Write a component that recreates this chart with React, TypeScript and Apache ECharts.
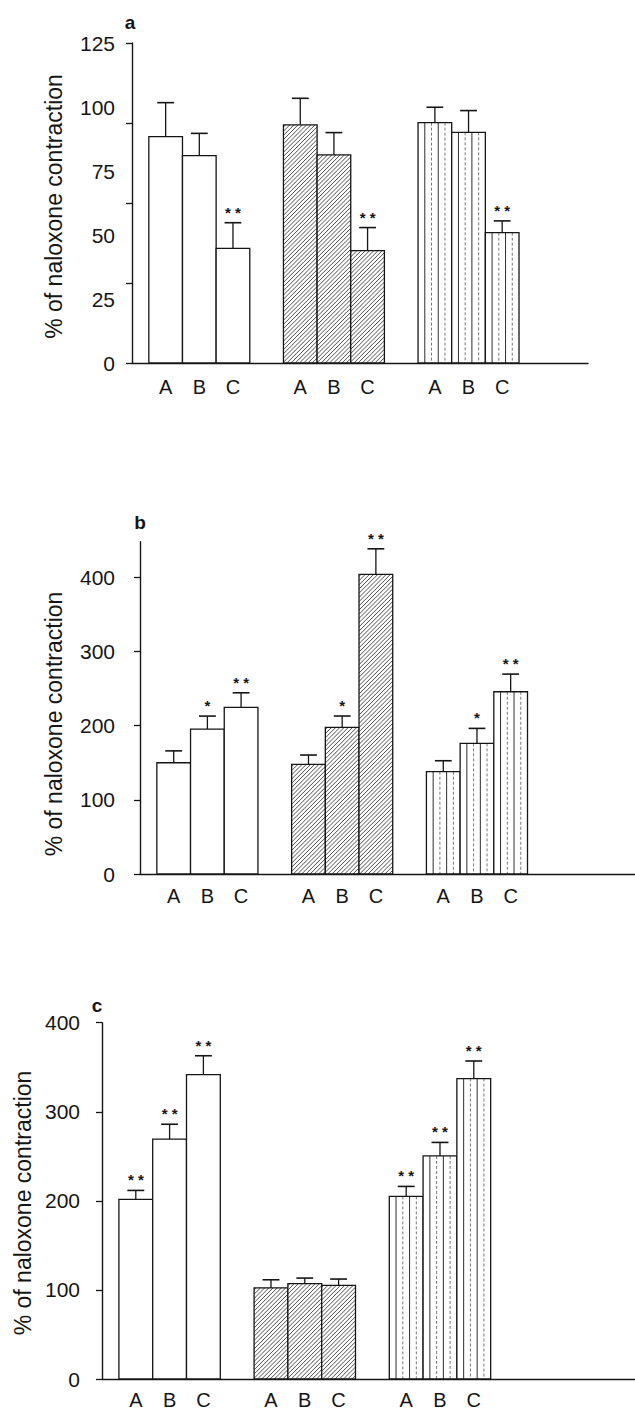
import React, { useEffect, useRef } from "react";
import * as echarts from "echarts";

// ---------- data ----------
const categories = ["A", "B", "C"];
const yAxisTitle = "% of naloxone contraction";
const panelLetters = ["a", "b", "c"];

// panel a
const aOpenMean = [88.4, 81.0, 44.8];
const aOpenSem = [13.3, 8.7, 10.0];
const aOpenStars = ["", "", "**"];
const aHatchMean = [93.0, 81.3, 43.9];
const aHatchSem = [10.4, 8.7, 9.0];
const aHatchStars = ["", "", "**"];
const aStripeMean = [93.9, 90.1, 50.9];
const aStripeSem = [6.0, 8.5, 4.6];
const aStripeStars = ["", "", "**"];
const aTickLabels = [0, 25, 50, 75, 100, 125];
const aTickMarks = [0, 31.25, 62.5, 93.75, 125];

// panel b
const bOpenMean = [150, 195.4, 224.6];
const bOpenSem = [16, 17.5, 19.7];
const bOpenStars = ["", "*", "**"];
const bHatchMean = [147.8, 197.7, 404];
const bHatchSem = [12.6, 15.3, 34.4];
const bHatchStars = ["", "*", "**"];
const bStripeMean = [137.9, 176.1, 245.7];
const bStripeSem = [14.8, 20.2, 23.8];
const bStripeStars = ["", "*", "**"];
const bTickLabels = [0, 100, 200, 300, 400];

// panel c
const cOpenMean = [201.7, 269.3, 341.7];
const cOpenSem = [10, 16.7, 21.2];
const cOpenStars = ["**", "**", "**"];
const cHatchMean = [102.2, 107, 105.2];
const cHatchSem = [9.2, 6.3, 7];
const cHatchStars = ["", "", ""];
const cStripeMean = [205, 250.4, 337.3];
const cStripeSem = [11.2, 15.2, 19.7];
const cStripeStars = ["**", "**", "**"];
const cTickLabels = [0, 100, 200, 300, 400];

// ---------- styling / layout ----------
const INK = "#151515";
const FONT = "'Liberation Sans', Arial, Helvetica, sans-serif";

type Group = { mean: number[]; sem: number[]; stars: string[]; pattern: "open" | "hatch" | "stripe" };

const panels = [
  {
    grid: { left: 132, top: 43, width: 456, height: 320 },
    xMax: 13.55, yMax: 125, tickLabels: aTickLabels, tickMarks: aTickMarks,
    labelMargin: 17, catMargin: 14,
    title: { x: 53.5, y: 206.5 }, letter: { x: 130, y: 22 },
    groups: [
      { mean: aOpenMean, sem: aOpenSem, stars: aOpenStars, pattern: "open" },
      { mean: aHatchMean, sem: aHatchSem, stars: aHatchStars, pattern: "hatch" },
      { mean: aStripeMean, sem: aStripeSem, stars: aStripeStars, pattern: "stripe" },
    ] as Group[],
  },
  {
    grid: { left: 140, top: 541.7, width: 495, height: 332.3 },
    xMax: 14.69, yMax: 448, tickLabels: bTickLabels, tickMarks: bTickLabels,
    labelMargin: 25, catMargin: 12,
    title: { x: 53.5, y: 724 }, letter: { x: 140, y: 522 },
    groups: [
      { mean: bOpenMean, sem: bOpenSem, stars: bOpenStars, pattern: "open" },
      { mean: bHatchMean, sem: bHatchSem, stars: bHatchStars, pattern: "hatch" },
      { mean: bStripeMean, sem: bStripeSem, stars: bStripeStars, pattern: "stripe" },
    ] as Group[],
  },
  {
    grid: { left: 102, top: 1022.7, width: 533, height: 359 },
    xMax: 15.77, yMax: 400, tickLabels: cTickLabels, tickMarks: cTickLabels,
    labelMargin: 22, catMargin: 11,
    title: { x: 22.5, y: 1203 }, letter: { x: 97, y: 1005 },
    groups: [
      { mean: cOpenMean, sem: cOpenSem, stars: cOpenStars, pattern: "open" },
      { mean: cHatchMean, sem: cHatchSem, stars: cHatchStars, pattern: "hatch" },
      { mean: cStripeMean, sem: cStripeSem, stars: cStripeStars, pattern: "stripe" },
    ] as Group[],
  },
];

const slot = (g: number, i: number) => g * 4 + i + 1;

function makeRender(pattern: string, stars: string[]) {
  return (params: any, api: any) => {
    const x = api.value(0);
    const v = api.value(1);
    const e = api.value(2);
    const base = api.coord([x, 0]);
    const top = api.coord([x, v]);
    const errTop = api.coord([x, v + e]);
    const w = api.size([1, 0])[0];
    const x0 = base[0] - w / 2;
    const x1 = base[0] + w / 2;
    const yt = top[1];
    const yb = base[1];
    const children: any[] = [];
    children.push({
      type: "rect",
      shape: { x: x0, y: yt, width: w, height: yb - yt },
      style: { fill: "#fff", stroke: "none" },
    });
    if (pattern === "hatch") {
      const step = 4.2;
      for (let c = x0 + yt + step / 2; c < x1 + yb; c += step) {
        const xs = Math.max(x0, c - yb);
        const xe = Math.min(x1, c - yt);
        if (xe - xs > 0.2) {
          children.push({
            type: "line",
            shape: { x1: xs, y1: c - xs, x2: xe, y2: c - xe },
            style: { stroke: INK, lineWidth: 0.75 },
          });
        }
      }
    } else if (pattern === "stripe") {
      const offs = [0.2, 0.4, 0.6, 0.8];
      offs.forEach((o, k) => {
        const dashed = k % 2 === 1;
        children.push({
          type: "line",
          shape: { x1: x0 + w * o, y1: yt, x2: x0 + w * o, y2: yb },
          style: {
            stroke: dashed ? "#555" : INK,
            lineWidth: dashed ? 0.8 : 0.9,
            lineDash: dashed ? [3, 2] : null,
          },
        });
      });
    }
    children.push({
      type: "rect",
      shape: { x: x0, y: yt, width: w, height: yb - yt },
      style: { fill: "none", stroke: INK, lineWidth: 1.3 },
    });
    children.push({
      type: "line",
      shape: { x1: base[0], y1: yt, x2: base[0], y2: errTop[1] },
      style: { stroke: INK, lineWidth: 1.3 },
    });
    children.push({
      type: "line",
      shape: { x1: base[0] - w * 0.25, y1: errTop[1], x2: base[0] + w * 0.25, y2: errTop[1] },
      style: { stroke: INK, lineWidth: 1.6 },
    });
    const s = stars[params.dataIndex];
    if (s) {
      children.push({
        type: "text",
        style: {
          text: s === "**" ? "* *" : "*",
          x: base[0],
          y: errTop[1] - 10.5,
          align: "center",
          verticalAlign: "middle",
          fontSize: 15,
          fontFamily: FONT,
          fontWeight: "bold",
          fill: INK,
        },
      });
    }
    return { type: "group", children };
  };
}

export default function App() {
  const ref = useRef<HTMLDivElement>(null);
  useEffect(() => {
    if (!ref.current) return;
    const chart = echarts.init(ref.current, null, { renderer: "svg" });
    const grid: any[] = [];
    const xAxis: any[] = [];
    const yAxis: any[] = [];
    const series: any[] = [];
    const graphic: any[] = [];
    panels.forEach((p, pi) => {
      grid.push({ ...p.grid, containLabel: false });
      const catValues: number[] = [];
      for (let g = 0; g < 3; g++) for (let i = 0; i < 3; i++) catValues.push(slot(g, i));
      xAxis.push({
        type: "value",
        gridIndex: pi,
        min: 0,
        max: p.xMax,
        splitLine: { show: false },
        axisTick: { show: false },
        axisLine: { show: true, onZero: false, lineStyle: { color: INK, width: 1.4 } },
        axisLabel: {
          customValues: catValues,
          formatter: (v: number) => categories[(Math.round(v) - 1) % 4] ?? "",
          margin: p.catMargin,
          fontSize: 20,
          fontFamily: FONT,
          color: INK,
        },
      });
      yAxis.push({
        type: "value",
        gridIndex: pi,
        min: 0,
        max: p.yMax,
        splitLine: { show: false },
        axisLine: { show: true, onZero: false, lineStyle: { color: INK, width: 1.4 } },
        axisTick: { show: true, length: 6, customValues: p.tickMarks, lineStyle: { color: INK, width: 1.3 } },
        axisLabel: {
          customValues: p.tickLabels,
          margin: p.labelMargin,
          fontSize: 21,
          fontFamily: FONT,
          color: INK,
        },
      });
      p.groups.forEach((g, gi) => {
        series.push({
          type: "custom",
          xAxisIndex: pi,
          yAxisIndex: pi,
          encode: { x: 0, y: 1 },
          data: g.mean.map((m, i) => [slot(gi, i), m, g.sem[i]]),
          renderItem: makeRender(g.pattern, g.stars),
          clip: false,
        });
      });
      graphic.push({
        type: "text",
        x: p.title.x,
        y: p.title.y,
        rotation: Math.PI / 2,
        style: {
          text: yAxisTitle,
          align: "center",
          verticalAlign: "middle",
          fontSize: 23,
          fontFamily: FONT,
          fill: INK,
        },
      });
      graphic.push({
        type: "text",
        x: p.letter.x,
        y: p.letter.y,
        style: {
          text: panelLetters[pi],
          align: "center",
          verticalAlign: "middle",
          fontSize: 19,
          fontWeight: "bold",
          fontFamily: FONT,
          fill: INK,
        },
      });
    });
    chart.setOption({
      animation: false,
      backgroundColor: "#fff",
      grid,
      xAxis,
      yAxis,
      series,
      graphic,
    });
    return () => chart.dispose();
  }, []);
  return (
    <div
      ref={ref}
      style={{ position: "absolute", left: 0, top: 0, width: 635, height: 1410 }}
    />
  );
}
